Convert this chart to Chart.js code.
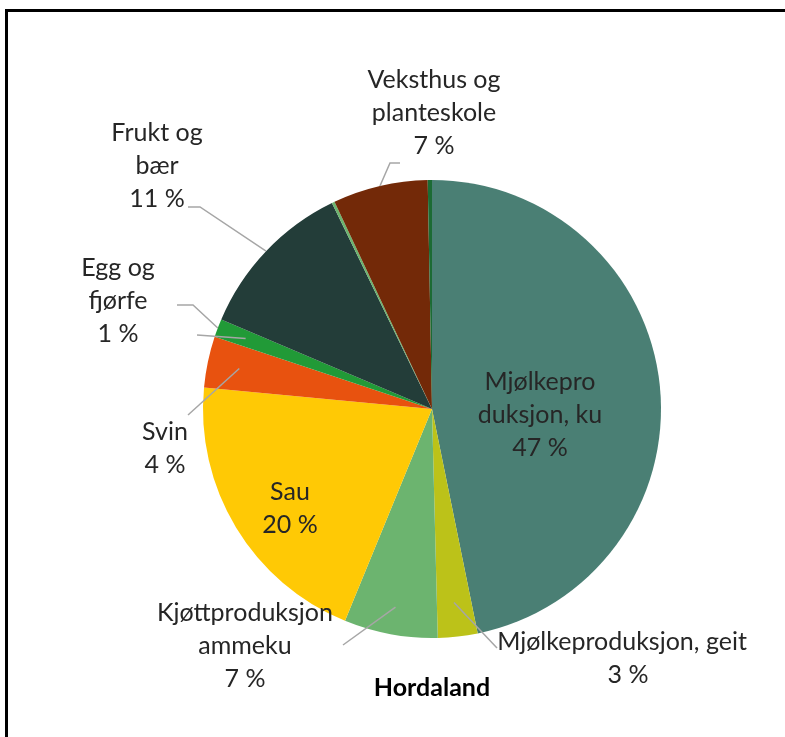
<!DOCTYPE html>
<html>
<head>
<meta charset="utf-8">
<script src="https://cdn.jsdelivr.net/npm/chart.js@4.4.0/dist/chart.umd.min.js"></script>
<style>
  html, body { margin: 0; padding: 0; background: #fff; overflow: hidden; }
  #wrap { position: relative; width: 785px; height: 737px; }
</style>
</head>
<body>
<div id="wrap"><canvas id="pie" width="785" height="737"></canvas></div>
<script>
// slices, clockwise from 12 o'clock
const categories = ['Mjølkeproduksjon, ku', 'Mjølkeproduksjon, geit', 'Kjøttproduksjon ammeku', 'Sau', 'Svin',
  'Egg og fjørfe', 'Frukt og bær', 'Annet', 'Veksthus og planteskole', 'Anna'];
const shares = [46.8, 2.8, 6.6, 20.3, 3.6, 1.3, 11.4, 0.2, 6.7, 0.3];
const pctLabels = ['47 %', '3 %', '7 %', '20 %', '4 %', '1 %', '11 %', '', '7 %', ''];
const nameLines = [['Mjølkepro', 'duksjon, ku'], ['Mjølkeproduksjon, geit'], ['Kjøttproduksjon', 'ammeku'],
  ['Sau'], ['Svin'], ['Egg og', 'fjørfe'], ['Frukt og', 'bær'], [], ['Veksthus og', 'planteskole'], []];
const colors = ['#4a7f74', '#bcc219', '#6cb46f', '#ffc905', '#e8520f', '#219a37', '#233d39', '#6cb46f', '#732908', '#1c6b34'];

// label layout: text centre x, first line y, leader (radius fraction at slice middle, then points)
const labelLayout = [
  { x: 540, y: 382 },
  { x: 622, y: 642, lines: [{ r: 0.85, pts: [[497, 648]] }] },
  { x: 245, y: 613, lines: [{ r: 0.88, pts: [[343, 645]] }] },
  { x: 290, y: 492 },
  { x: 165, y: 432, lines: [{ r: 0.86, pts: [[188, 415]] }] },
  { x: 118, y: 268, lines: [{ r: 1.0, pts: [[193, 305], [177, 305]] }, { r: 0.87, pts: [[197, 335]] }] },
  { x: 157, y: 133, lines: [{ r: 1.0, pts: [[200, 207], [188, 207]] }] },
  null,
  { x: 434, y: 80, lines: [{ r: 1.0, pts: [[390, 163], [400, 163]] }] },
  null
];

const FONT = 'Lato, "Open Sans", sans-serif';
const LINE_H = 33;

const labelPlugin = {
  id: 'sliceLabels',
  afterDatasetsDraw(chart) {
    const ctx = chart.ctx;
    const arcs = chart.getDatasetMeta(0).data;
    ctx.save();
    // leader lines
    ctx.strokeStyle = '#a6a6a6';
    ctx.lineWidth = 1.5;
    arcs.forEach((arc, i) => {
      const lay = labelLayout[i];
      if (!lay || !lay.lines) return;
      const mid = (arc.startAngle + arc.endAngle) / 2;
      lay.lines.forEach(l => {
        ctx.beginPath();
        ctx.moveTo(arc.x + Math.cos(mid) * arc.outerRadius * l.r, arc.y + Math.sin(mid) * arc.outerRadius * l.r);
        l.pts.forEach(p => ctx.lineTo(p[0], p[1]));
        ctx.stroke();
      });
    });
    // texts
    ctx.fillStyle = '#262626';
    ctx.font = '25px ' + FONT;
    ctx.textAlign = 'center';
    ctx.textBaseline = 'middle';
    arcs.forEach((arc, i) => {
      const lay = labelLayout[i];
      if (!lay) return;
      const lines = nameLines[i].concat([pctLabels[i]]);
      lines.forEach((t, k) => {
        let x = lay.x;
        if (i === 1 && k === 1) x += 6;
        ctx.fillText(t, x, lay.y + k * LINE_H);
      });
    });
    // title
    ctx.font = 'bold 25px ' + FONT;
    ctx.fillStyle = '#000';
    ctx.fillText('Hordaland', 432, 688);
    // frame
    ctx.strokeStyle = '#000';
    ctx.lineWidth = 3;
    ctx.strokeRect(6.5, 10.5, 900, 900);
    ctx.restore();
  }
};

new Chart(document.getElementById('pie'), {
  type: 'pie',
  data: {
    labels: categories,
    datasets: [{
      data: shares,
      backgroundColor: colors,
      borderWidth: 0
    }]
  },
  options: {
    responsive: false,
    animation: false,
    layout: { padding: { left: 203, right: 124, top: 180, bottom: 99 } },
    plugins: {
      legend: { display: false },
      tooltip: { enabled: false }
    }
  },
  plugins: [labelPlugin]
});
</script>
</body>
</html>
